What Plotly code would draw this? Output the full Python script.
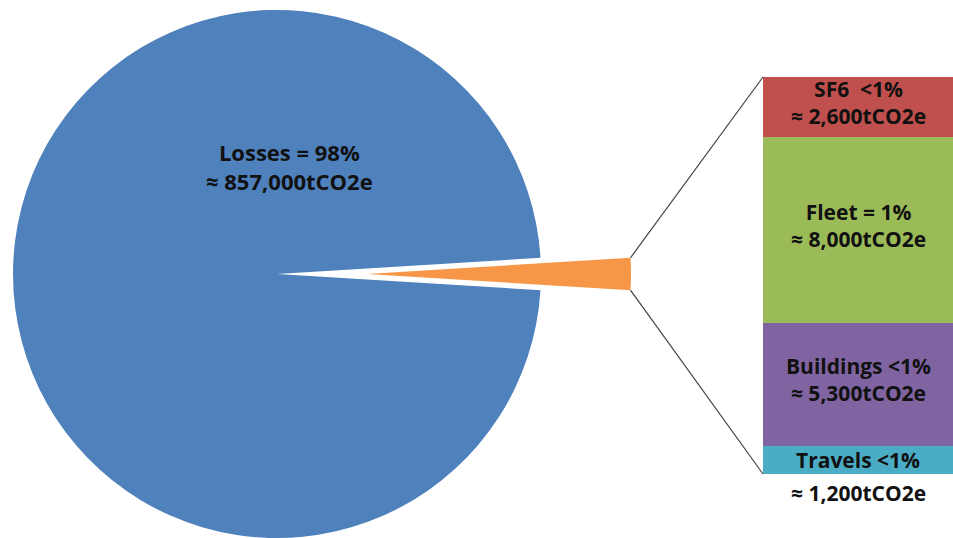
import math
import plotly.graph_objects as go

W, H = 953, 538

# Main emission source
loss_title = "Losses = 98%"
loss_value = 857000

# Breakdown of the remaining sources (top to bottom in the bar)
sub_titles = ["SF6\u00a0\u00a0<1%", "Fleet = 1%", "Buildings <1%", "Travels <1%"]
sub_values = [2600, 8000, 5300, 1200]
sub_colors = ["#C0504D", "#9BBB59", "#8064A2", "#4BACC6"]

pie_colors = ["#F79646", "#4F81BD"]
text_color = "#111111"
font_family = "Open Sans"


def amount(v):
    return f"\u2248 {v:,}tCO2e"


def px_to_paper(x, y):
    return x / W, 1 - y / H


others_total = sum(sub_values)
pie_labels = ["Other", "Losses"]
pie_values = [others_total, loss_value]
other_frac = others_total / (others_total + loss_value)
# centre the small slice on 3 o'clock
rotation = 90 - other_frac * 360 / 2

# pie placement (pixels): main pie and the pulled-out slice share the radius
pie_cx, pie_cy, pie_r = 277, 274, 264
pull_px = 90


def pie_domain(cx):
    x0, y0 = px_to_paper(cx - pie_r, pie_cy + pie_r)
    x1, y1 = px_to_paper(cx + pie_r, pie_cy - pie_r)
    return dict(x=[max(0, x0), min(1, x1)], y=[max(0, y0), min(1, y1)])


fig = go.Figure()

# main pie with a gap where the small slice sits
fig.add_trace(go.Pie(
    labels=pie_labels, values=pie_values, sort=False, direction="clockwise",
    rotation=rotation, textinfo="none", hoverinfo="label+value",
    marker=dict(colors=["rgba(0,0,0,0)", pie_colors[1]], line=dict(width=0)),
    domain=pie_domain(pie_cx), showlegend=False,
))
# the small slice, shifted outwards
fig.add_trace(go.Pie(
    labels=pie_labels, values=pie_values, sort=False, direction="clockwise",
    rotation=rotation, textinfo="none", hoverinfo="label+value",
    marker=dict(colors=[pie_colors[0], "rgba(0,0,0,0)"], line=dict(width=0)),
    domain=pie_domain(pie_cx + pull_px), showlegend=False,
))

# stacked bar of the breakdown, bottom segment first
for title, v, c in reversed(list(zip(sub_titles, sub_values, sub_colors))):
    fig.add_trace(go.Bar(
        x=[0], y=[v], width=[1], marker=dict(color=c, line=dict(width=0)),
        name=title, hoverinfo="name+y", showlegend=False,
    ))

bar_left, bar_top, bar_bottom = 763, 77, 474
ydom = [1 - bar_bottom / H, 1 - bar_top / H]

label_font = dict(size=21, color=text_color, family=font_family, weight="bold")

annotations = []
# labels for the bar segments
cum = 0
px_per_unit = (bar_bottom - bar_top) / others_total
for title, v in reversed(list(zip(sub_titles, sub_values))):
    mid = cum + v / 2
    seg_px = v * px_per_unit
    if seg_px > 45:
        annotations.append(dict(
            x=0, y=mid, xref="x", yref="y", text=f"{title}<br>{amount(v)}",
            showarrow=False, yshift=5, xanchor="center", yanchor="middle",
            align="center", font=label_font,
        ))
    else:
        annotations.append(dict(
            x=0, y=mid, xref="x", yref="y", text=title,
            showarrow=False, xanchor="center", yanchor="middle", font=label_font,
        ))
        annotations.append(dict(
            x=0, y=mid, xref="x", yref="y", text=amount(v),
            showarrow=False, yshift=-33, xanchor="center", yanchor="middle",
            font=label_font,
        ))
    cum += v

# label on the main pie
lx, ly = px_to_paper(pie_cx + 12, pie_cy - 107)
annotations.append(dict(
    x=lx, y=ly, xref="paper", yref="paper",
    text=f"{loss_title}<br>{amount(loss_value)}", showarrow=False,
    xanchor="center", yanchor="middle", align="center",
    font=dict(size=22, color=text_color, family=font_family, weight="bold"),
))

# connector lines from the pulled slice to the bar
half = other_frac * math.pi
sx = pie_cx + pull_px + pie_r * math.cos(half)
shapes = []
for sy, by in [(pie_cy - pie_r * math.sin(half), bar_top),
               (pie_cy + pie_r * math.sin(half), bar_bottom)]:
    x0, y0 = px_to_paper(sx, sy)
    x1, y1 = px_to_paper(bar_left, by)
    shapes.append(dict(type="line", xref="paper", yref="paper",
                       x0=x0, y0=y0, x1=x1, y1=y1,
                       line=dict(color="#404040", width=1.2)))

fig.update_layout(
    width=W, height=H, margin=dict(l=0, r=0, t=0, b=0),
    paper_bgcolor="white", plot_bgcolor="white",
    barmode="stack", bargap=0, showlegend=False,
    xaxis=dict(domain=[bar_left / W, 1], range=[-0.5, 0.5], visible=False, fixedrange=True),
    yaxis=dict(domain=ydom, range=[0, others_total], visible=False, fixedrange=True),
    annotations=annotations, shapes=shapes,
    font=dict(family=font_family),
)

fig.write_html("out.html")
